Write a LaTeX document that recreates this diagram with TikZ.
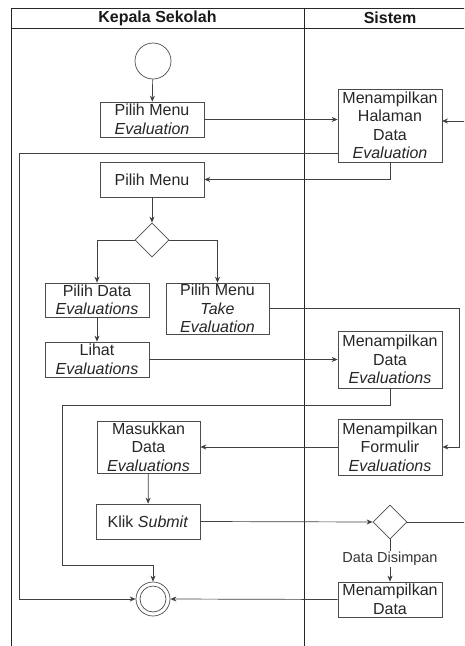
\documentclass[tikz,border=0pt]{standalone}
\usepackage{fontspec}
\setmainfont{Liberation Sans}
\usetikzlibrary{shapes.geometric,arrows.meta}
\begin{document}
\begin{tikzpicture}[x=1pt,y=-1pt,
  act/.style={draw=black!70, line width=0.7pt, rectangle, inner sep=0pt, minimum width=104pt, align=center, font=\fontsize{16}{18.5}\selectfont, text=black!85},
  dec/.style={draw=black!70, line width=0.7pt, diamond, minimum width=34pt, minimum height=34pt, inner sep=0pt},
  flow/.style={draw=black!75, line width=0.7pt, -{Stealth[length=6pt,width=5pt]}},
  plain/.style={draw=black!75, line width=0.7pt},
  lane/.style={draw=black!85, line width=0.8pt},
  hdr/.style={font=\fontsize{16}{18}\selectfont\bfseries, text=black!90, inner sep=0pt},
  lbl/.style={font=\fontsize{14.5}{16}\selectfont, text=black!80, fill=white, inner sep=1pt}]
\useasboundingbox (0,0) rectangle (464,646);
\clip (0,0) rectangle (464,646);
% swimlanes
\draw[lane] (11,646) -- (11,8) -- (480,8);
\draw[lane] (11,28) -- (480,28);
\draw[lane] (304,8) -- (304,646);
\node[hdr] (hk) at (157.5,18) {Kepala Sekolah};
\node[hdr] (hs) at (390,18) {Sistem};
% nodes
\node[circle, draw=black!70, line width=0.7pt, minimum size=36pt, inner sep=0pt] (start) at (153,61) {};
\node[act, minimum height=35pt] (b1) at (152,119.5) {Pilih Menu\\\textit{Evaluation}};
\node[act, minimum height=73pt] (h) at (390,125.5) {Menampilkan\\Halaman\\Data\\\textit{Evaluation}};
\node[act, minimum height=35pt] (pm) at (152,179.5) {Pilih Menu};
\node[dec] (d1) at (152,240) {};
\node[act, minimum height=34pt] (pd) at (97,300) {Pilih Data\\\textit{Evaluations}};
\node[act, minimum width=103pt, minimum height=51pt] (tk) at (217.5,308.5) {Pilih Menu\\\textit{Take}\\\textit{Evaluation}};
\node[act, minimum height=35pt] (lh) at (97,359.5) {Lihat\\\textit{Evaluations}};
\node[act, minimum height=57pt] (md) at (390,359.5) {Menampilkan\\Data\\\textit{Evaluations}};
\node[act, minimum height=56pt] (fm) at (390,447) {Menampilkan\\Formulir\\\textit{Evaluations}};
\node[act, minimum width=103pt, minimum height=52pt] (ms) at (148.5,447) {Masukkan\\Data\\\textit{Evaluations}};
\node[act, minimum height=35pt] (ks) at (148,521.5) {Klik \textit{Submit}};
\node[dec] (d2) at (390,522) {};
\node[act, minimum height=35pt] (mdat) at (390,599.5) {Menampilkan\\Data};
\node[circle, draw=black!70, line width=0.7pt, minimum size=34pt, inner sep=0pt] (end) at (153,599) {};
\node[circle, draw=black!70, line width=0.7pt, minimum size=26pt, inner sep=0pt] (endin) at (153,599) {};
% coordinates
\coordinate (hin) at (442,121);
\coordinate (rloop1) at (472,522);
\coordinate (rloop2) at (472,121);
\coordinate (hout) at (338,153);
\coordinate (lft1) at (19,153);
\coordinate (lft2) at (19,599);
\coordinate (tkr) at (459,308.5);
\coordinate (mdc1) at (390,405);
\coordinate (mdc2) at (62,405);
\coordinate (mdc3) at (62,565);
\coordinate (mdc4) at (153,565);
% connectors
\draw[flow] (start) -- (b1);
\draw[flow] (b1.east) -- (b1.east -| h.west);
\draw[flow] (d2.east) -- (rloop1) -- (rloop2) -- (hin);
\draw[flow] (h.south) |- (pm.east);
\draw[flow] (hout) -- (lft1) -- (lft2) -- (end.west);
\draw[flow] (pm) -- (d1);
\draw[flow] (d1.west) -| (pd.north);
\draw[flow] (d1.east) -| (tk.north);
\draw[flow] (pd) -- (lh);
\draw[flow] (lh.east) -- (lh.east -| md.west);
\draw[flow] (tk.east) -- (tkr) |- (fm.east);
\draw[flow] (md.south) -- (mdc1) -- (mdc2) -- (mdc3) -- (mdc4) -- (end.north);
\draw[flow] (fm.west) -- (ms.east);
\draw[flow] (ms) -- (ks);
\draw[flow] (ks.east) -- (d2.west);
\draw[flow] (d2.south) -- (mdat.north) node[lbl, pos=0.47] (lab) {Data Disimpan};
\draw[flow] (mdat.west) -- (end.east);
\end{tikzpicture}
\end{document}
